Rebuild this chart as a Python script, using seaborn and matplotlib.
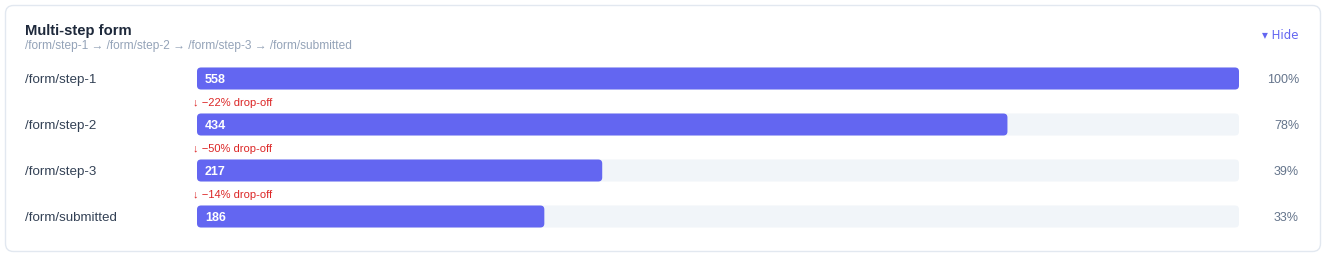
import matplotlib
matplotlib.use("Agg")
import matplotlib.pyplot as plt
import seaborn as sns
import pandas as pd
from matplotlib.patches import FancyBboxPatch
from matplotlib.transforms import blended_transform_factory, IdentityTransform

steps = ["/form/step-1", "/form/step-2", "/form/step-3", "/form/submitted"]
counts = [558, 434, 217, 186]
pct_of_first = ["100%", "78%", "39%", "33%"]
dropoffs = ["\u2193 \u221222% drop-off", "\u2193 \u221250% drop-off", "\u2193 \u221214% drop-off"]
title = "Multi-step form"
subtitle = "/form/step-1 \u2192 /form/step-2 \u2192 /form/step-3 \u2192 /form/submitted"

W, H = 1327, 258
DPI = 100
sns.set_theme(style="white")
plt.rcParams["font.family"] = ["Liberation Sans", "DejaVu Sans"]

fig = plt.figure(figsize=(W / DPI, H / DPI), dpi=DPI)
fig.patch.set_facecolor("white")

def fx(px):
    return px / W

def fy(py):
    return 1 - py / H

# card border (display pixel coords)
card = FancyBboxPatch((5.5, H - 251.5), 1315, 246,
                      boxstyle="round,pad=0,rounding_size=8",
                      transform=IdentityTransform(), facecolor="white",
                      edgecolor="#e2e8f0", linewidth=1.0, zorder=-5)
fig.patches.append(card)

# axes covering bar area
x0, x1 = 197, 1239
top_px, bot_px = 78.5 - 23, 216.5 + 23
ax = fig.add_axes([fx(x0), fy(bot_px), fx(x1 - x0), (bot_px - top_px) / H])
ax.set_facecolor("none")
ax.set_zorder(2)

df = pd.DataFrame({"step": steps, "count": counts, "track": [max(counts)] * len(counts)})
sns.barplot(data=df, y="step", x="track", orient="h", color="#f1f5f9",
            width=22 / 46, ax=ax, saturation=1)
sns.barplot(data=df, y="step", x="count", orient="h", color="#6366f1",
            width=22 / 46, ax=ax, saturation=1)
ax.set_xlim(0, max(counts))
ax.set_ylim(len(steps) - 0.5, -0.5)
ax.set_axis_off()

# replace rectangles with rounded patches (display coords)
fig.canvas.draw()
rects = list(ax.patches)
for k, r in enumerate(rects):
    bb = r.get_window_extent()
    rp = FancyBboxPatch((bb.x0, bb.y0), bb.width, bb.height,
                        boxstyle="round,pad=0,rounding_size=4",
                        transform=IdentityTransform(),
                        facecolor=r.get_facecolor(), edgecolor="none",
                        zorder=1 + (k >= len(steps)) * 0.1)
    r.set_visible(False)
    fig.patches.append(rp)

# texts
dy = 0.035
tr_lab = blended_transform_factory(fig.transFigure, ax.transData)
for i, (s, c, p) in enumerate(zip(steps, counts, pct_of_first)):
    ax.text(fx(25), i + dy, s, transform=tr_lab, ha="left", va="center",
            fontsize=9.6, color="#334155")
    ax.text(fx(205), i + dy, str(c), transform=tr_lab, ha="left", va="center",
            fontsize=9, color="white", fontweight="bold", zorder=10)
    ax.text(fx(1299), i + dy, p, transform=tr_lab, ha="right", va="center",
            fontsize=9, color="#64748b")
for i, d in enumerate(dropoffs):
    ax.text(fx(193), i + 1 - 0.46, d, transform=tr_lab, ha="left", va="center",
            fontsize=8, color="#dc2626")

fig.text(fx(25), fy(30.5), title, ha="left", va="center", fontsize=10.6,
         fontweight="bold", color="#1e293b")
fig.text(fx(25), fy(45.5), subtitle, ha="left", va="center", fontsize=8.6,
         color="#94a3b8")
fig.text(fx(1299), fy(35.5), "\u25be Hide", ha="right", va="center", fontsize=8.5,
         color="#6366f1", family=["DejaVu Sans"])

fig.savefig("out.png", dpi=DPI, facecolor="white")
